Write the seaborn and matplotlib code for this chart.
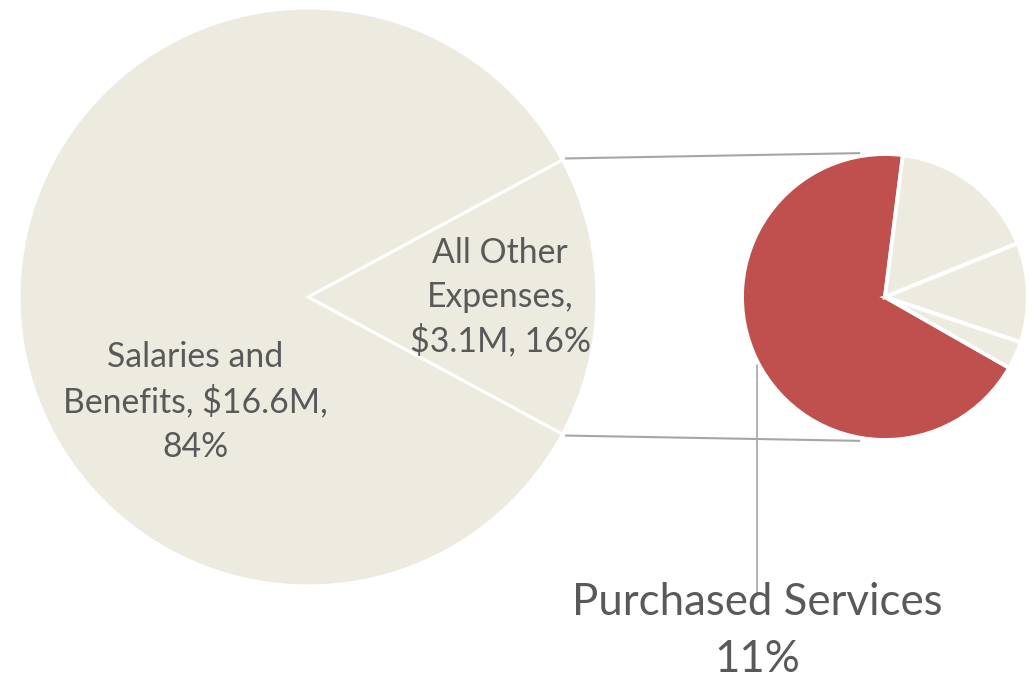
import numpy as np
import matplotlib
matplotlib.use("Agg")
import matplotlib.pyplot as plt
import seaborn as sns

# ---- data ----
main_categories = ["All Other Expenses", "Salaries and Benefits"]
main_amounts_m = [3.1, 16.6]          # $ millions
sub_categories = ["Purchased Services", "Other A", "Other B", "Other C"]
sub_pct_of_total = [11.0, 2.7, 1.8, 0.5]   # % of total budget

sns.set_theme(style="white")
plt.rcParams["font.family"] = ["Lato", "DejaVu Sans"]

W, H = 1036, 677
fig = plt.figure(figsize=(W / 100, H / 100), dpi=100)
ax = fig.add_axes([0, 0, 1, 1])
ax.set_xlim(0, W)
ax.set_ylim(0, H)
ax.axis("off")

beige = "#EDEBE0"
red = "#C0504D"
txt = "#595959"
gray = "#A6A6A6"

# main pie
total = sum(main_amounts_m)
other_angle = main_amounts_m[0] / total * 360
mc = (308, H - 297)
mr = 289
ax.pie(main_amounts_m, colors=sns.color_palette([beige, beige]), startangle=-other_angle / 2,
       center=mc, radius=mr, counterclock=True,
       wedgeprops=dict(edgecolor="white", linewidth=2.2))

# secondary pie
sc = (885, H - 297)
sr = 143
ax.pie(sub_pct_of_total, colors=sns.color_palette([red, beige, beige, beige]),
       startangle=-29.7, counterclock=False, center=sc, radius=sr,
       wedgeprops=dict(edgecolor="white", linewidth=2.8))

ax.set_xlim(0, W)
ax.set_ylim(0, H)
ax.set_aspect("equal")

# connector lines
half = np.deg2rad(other_angle / 2)
for s in (1, -1):
    x0 = mc[0] + (mr + 3) * np.cos(half)
    y0 = mc[1] + s * (mr + 3) * np.sin(half)
    a = np.deg2rad(99.8)
    x1 = sc[0] + (sr + 3) * np.cos(a)
    y1 = sc[1] + s * (sr + 3) * np.sin(a)
    ax.plot([x0, x1], [y0, y1], color=gray, lw=1.5, solid_capstyle="butt")

# labels
pcts = [round(v / total * 100) for v in main_amounts_m]
lab_sal = ["Salaries and", f"Benefits, ${main_amounts_m[1]:.1f}M,", f"{pcts[1]}%"]
lab_oth = ["All Other", "Expenses,", f"${main_amounts_m[0]:.1f}M, {pcts[0]}%"]
for i, line in enumerate(lab_sal):
    ax.text(195, H - (367 + 45 * i), line, ha="center", va="baseline",
            fontsize=24.3, color=txt)
for i, line in enumerate(lab_oth):
    ax.text(500, H - (263 + 44 * i), line, ha="center", va="baseline",
            fontsize=24.3, color=txt)

# purchased services leader + label
ax.plot([757, 757], [H - 365, H - 593], color=gray, lw=1.2)
ax.text(757, H - 615, sub_categories[0], ha="center", va="baseline",
        fontsize=31.5, color=txt)
ax.text(757, H - 672, f"{sub_pct_of_total[0]:.0f}%", ha="center", va="baseline",
        fontsize=31.5, color=txt)

fig.savefig("out.png", dpi=100)
